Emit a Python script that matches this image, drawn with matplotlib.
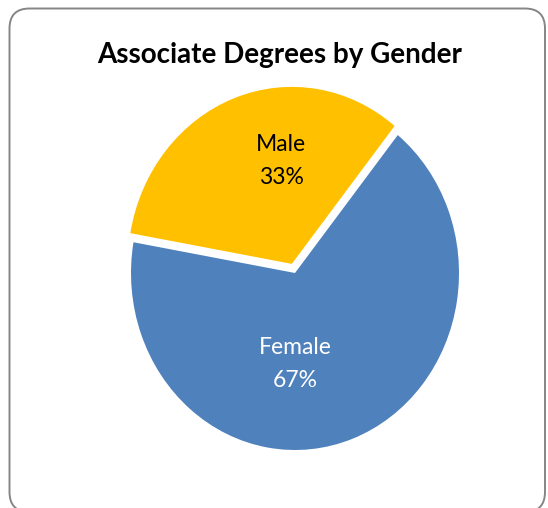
import matplotlib
matplotlib.use("Agg")
import matplotlib.pyplot as plt
from matplotlib.patches import FancyBboxPatch

# data
labels = ["Female", "Male"]
shares = [67, 33]
colors = ["#4F81BD", "#FFC000"]
explode = [0, 0.055]
title = "Associate Degrees by Gender"

W, H = 548, 508
fig = plt.figure(figsize=(W / 100, H / 100), dpi=100)

# rounded chart border (in inches, 100 px per inch)
border = FancyBboxPatch((0.095, -0.04), 5.45 - 0.095, H / 100 - 0.085 + 0.04,
                        boxstyle="round,pad=0,rounding_size=0.2",
                        transform=fig.dpi_scale_trans, facecolor="none",
                        edgecolor="#868686", linewidth=1.4, zorder=-1)
fig.patches.append(border)

# pie is slightly taller than wide in the reference
cx, cy = 295, 273
rx, ry = 164, 177
lim = 1.3
ax = fig.add_axes([(cx - rx * lim) / W, (H - cy - ry * lim) / H,
                   2 * rx * lim / W, 2 * ry * lim / H])
wedges, texts = ax.pie(shares, colors=colors, explode=explode,
                       startangle=170, counterclock=True,
                       wedgeprops=dict(linewidth=0))
ax.set_aspect("auto")
ax.set_xlim(-lim, lim)
ax.set_ylim(-lim, lim)
ax.axis("off")

font = ["Lato", "DejaVu Sans"]

def px(x, y):
    return x / W, 1 - y / H

fig.text(*px(280, 55), title, ha="center", va="center", fontsize=20,
         fontweight="bold", family=font)

fig.text(*px(281, 161), f"{labels[1]}\n{shares[1]}%", ha="center", va="center",
         fontsize=16.5, family=font, color="black", linespacing=1.65)
fig.text(*px(295, 364), f"{labels[0]}\n{shares[0]}%", ha="center", va="center",
         fontsize=16.5, family=font, color="white", linespacing=1.65)

fig.savefig("out.png", dpi=100)
